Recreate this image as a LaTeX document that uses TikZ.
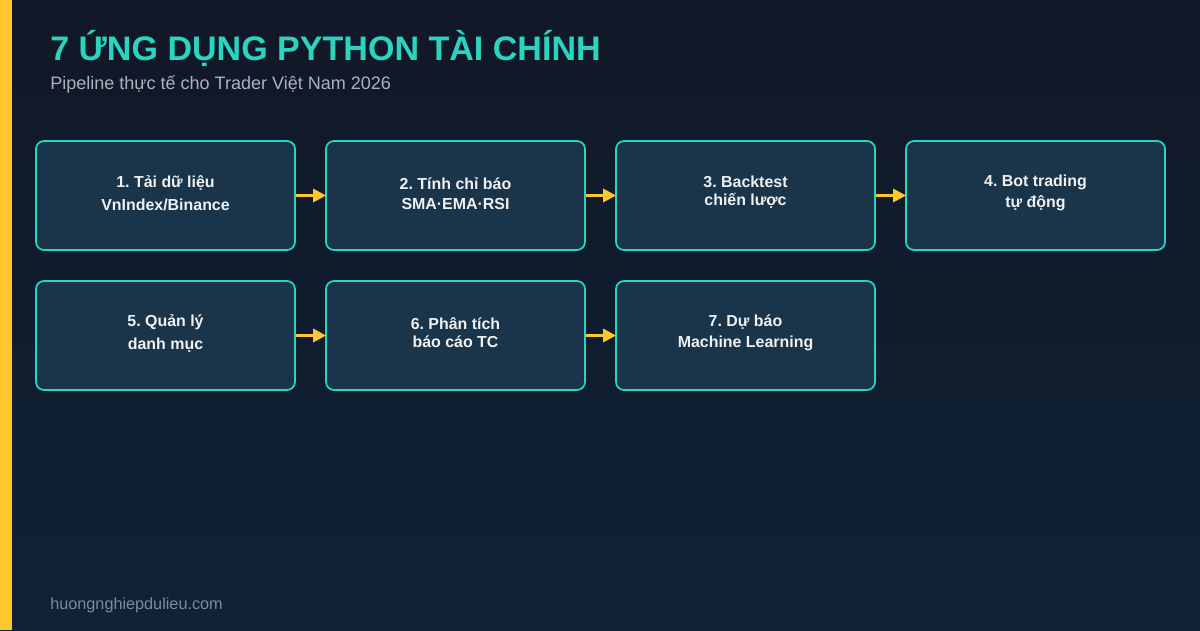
\documentclass[tikz,border=0pt]{standalone}
\usepackage{fontspec}
\setmainfont{Liberation Sans}
\usetikzlibrary{arrows.meta}

\definecolor{bgtop}{HTML}{111827}
\definecolor{bgbottom}{HTML}{0F2236}
\definecolor{barcolor}{HTML}{FFC72C}
\definecolor{tealcolor}{HTML}{2AD4BE}
\definecolor{boxfill}{HTML}{1A3449}
\definecolor{subcolor}{HTML}{A9B2BF}
\definecolor{footcolor}{HTML}{7F8A99}

\tikzset{
    stagebox/.style={draw=tealcolor, fill=boxfill, line width=1pt, rounded corners=0.16cm,
        minimum width=5.18cm, minimum height=2.18cm, inner sep=0pt},
    stagetext/.style={anchor=base, text=white!93!boxfill, font=\fontsize{9.07}{11}\selectfont\bfseries},
    pipe/.style={-{Triangle[length=0.26cm,width=0.26cm]}, draw=barcolor, line width=1.7pt, shorten >=-0.57pt}
}

\begin{document}
\frenchspacing
\begin{tikzpicture}[x=0.02cm, y=-0.02cm]
    % Background and left bar
    \useasboundingbox (0,0) rectangle (1200,630);
    \shade[top color=bgtop, bottom color=bgbottom] (0,0) rectangle (1200,630);
    \fill[barcolor] (0,0) rectangle (12,630);

    % Heading
    \node[anchor=base west, inner sep=0pt, text=tealcolor, font=\fontsize{19.38}{24}\selectfont\bfseries] (title) at (50,60.5) {7 ỨNG DỤNG PYTHON TÀI CHÍNH};
    \node[anchor=base west, inner sep=0pt, text=subcolor, font=\fontsize{10.26}{12}\selectfont] (subtitle) at (50,89) {Pipeline thực tế cho Trader Việt Nam 2026};

    % First row
    \node[stagebox] (load) at (165.5,195.5) {};
    \node[stagebox] (calc) at (455.5,195.5) {};
    \node[stagebox] (back) at (745.5,195.5) {};
    \node[stagebox] (bot) at (1035.5,195.5) {};

    % Second row
    \node[stagebox] (port) at (165.5,335.5) {};
    \node[stagebox] (report) at (455.5,335.5) {};
    \node[stagebox] (ml) at (745.5,335.5) {};

    % Box labels, each line on its own baseline
    \node[stagetext] (loada) at (165.5,187) {1. Tải dữ liệu};
    \node[stagetext] (loadb) at (165.5,210) {VnIndex/Binance};
    \node[stagetext] (calca) at (455.5,189.5) {2. Tính chỉ báo};
    \node[stagetext] (calcb) at (455.5,209) {SMA·EMA·RSI};
    \node[stagetext] (backa) at (745.5,187) {3. Backtest};
    \node[stagetext] (backb) at (745.5,205) {chiến lược};
    \node[stagetext] (bota) at (1035.5,186) {4. Bot trading};
    \node[stagetext] (botb) at (1035.5,207) {tự động};
    \node[stagetext] (porta) at (165.5,326) {5. Quản lý};
    \node[stagetext] (portb) at (165.5,349) {danh mục};
    \node[stagetext] (reporta) at (455.5,329) {6. Phân tích};
    \node[stagetext] (reportb) at (455.5,347) {báo cáo TC};
    \node[stagetext] (mla) at (745.5,326) {7. Dự báo};
    \node[stagetext] (mlb) at (745.5,347) {Machine Learning};

    % Connectors
    \draw[pipe] (load) -- (calc);
    \draw[pipe] (calc) -- (back);
    \draw[pipe] (back) -- (bot);
    \draw[pipe] (port) -- (report);
    \draw[pipe] (report) -- (ml);

    % Footer
    \node[anchor=base west, inner sep=0pt, text=footcolor, font=\fontsize{9.24}{11}\selectfont] (footer) at (50,609) {huongnghiepdulieu.com};
\end{tikzpicture}
\end{document}
